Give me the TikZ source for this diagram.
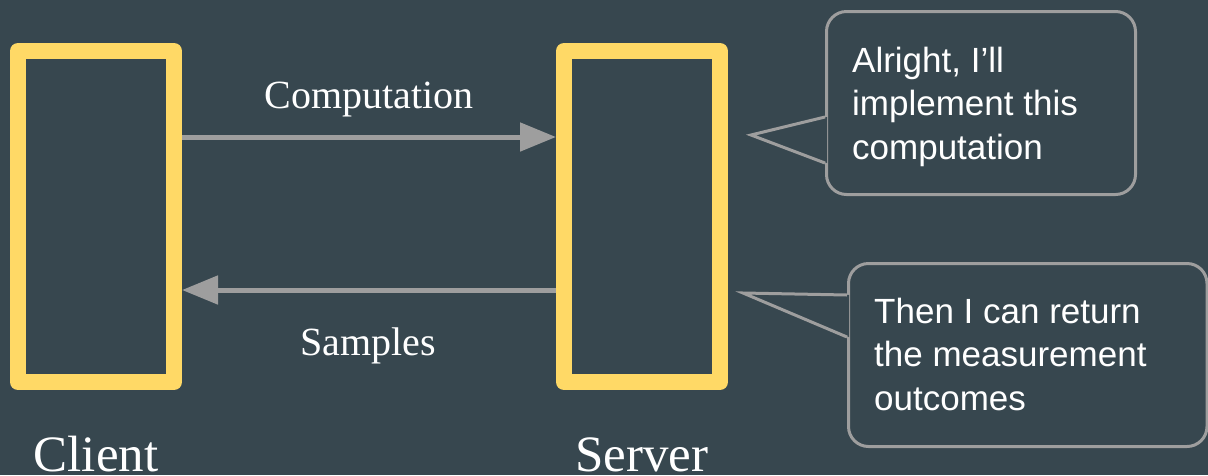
\documentclass[tikz,border=0pt]{standalone}
\usepackage{fontspec}
\setmainfont{Liberation Serif}
\newfontfamily\bubblefont{Liberation Sans}
\usetikzlibrary{arrows.meta}
\definecolor{slate}{HTML}{37474F}
\definecolor{gold}{HTML}{FFD966}
\definecolor{steel}{HTML}{9E9E9E}
\tikzset{
  party/.style={draw=gold, line width=16pt, line join=round, fill=slate,
    minimum width=156pt, minimum height=331pt, inner sep=0pt},
  flow/.style={draw=steel, line width=5pt, -{Triangle[length=36pt,width=28pt]}},
  flowlabel/.style={text=white, font=\fontsize{40}{48}\selectfont, anchor=base, inner sep=0pt},
  rolelabel/.style={text=white, font=\fontsize{51}{60}\selectfont, anchor=base, inner sep=0pt},
  bubble/.style={draw=steel, line width=3pt, rounded corners=20pt, fill=slate,
    anchor=north west, inner sep=0pt},
  bubbletext/.style={text=white, font=\bubblefont\fontsize{35}{43.5}\selectfont,
    align=left, anchor=base west, inner sep=0pt},
  tail/.style={draw=steel, line width=3pt, line join=miter},
}
\begin{document}
\begin{tikzpicture}[x=1pt, y=-1pt]
  % canvas
  \useasboundingbox (0,0) rectangle (1208,475);
  \fill[slate] (0,0) rectangle (1208,475);

  % the two parties
  \node[party] (client) at (96,216.5) {};
  \node[party] (server) at (642,216.5) {};
  \node[rolelabel] (clientlabel) at (96,471) {Client};
  \node[rolelabel] (serverlabel) at (642,471) {Server};

  % messages between them
  \draw[flow] ([yshift=79.5pt]client.east) -- ([yshift=79.5pt]server.west);
  \draw[flow] ([yshift=-73.5pt]server.west) -- ([yshift=-73.5pt]client.east);
  \node[flowlabel] (complabel) at (369,108) {Computation};
  \node[flowlabel] (samplabel) at (368,355) {Samples};

  % first speech bubble (text anchored on its last baseline)
  \node[bubble, minimum width=309pt, minimum height=183pt] (bubbleA) at (825,10) {};
  \coordinate (tipA) at (751,135);
  \fill[slate] (827,117) -- (tipA) -- (827,163) -- cycle;
  \draw[tail] (825,117) -- (tipA) -- (825,163);
  \node[bubbletext] (textA) at (852,159) {Alright, I’ll\\implement this\\computation};

  % second speech bubble
  \node[bubble, minimum width=358.5pt, minimum height=183pt] (bubbleB) at (847,262) {};
  \coordinate (tipB) at (743,293);
  \fill[slate] (849,295) -- (tipB) -- (849,337) -- cycle;
  \draw[tail] (847,295) -- (tipB) -- (847,337);
  \node[bubbletext] (textB) at (874,410) {Then I can return\\the measurement\\outcomes};
\end{tikzpicture}
\end{document}
